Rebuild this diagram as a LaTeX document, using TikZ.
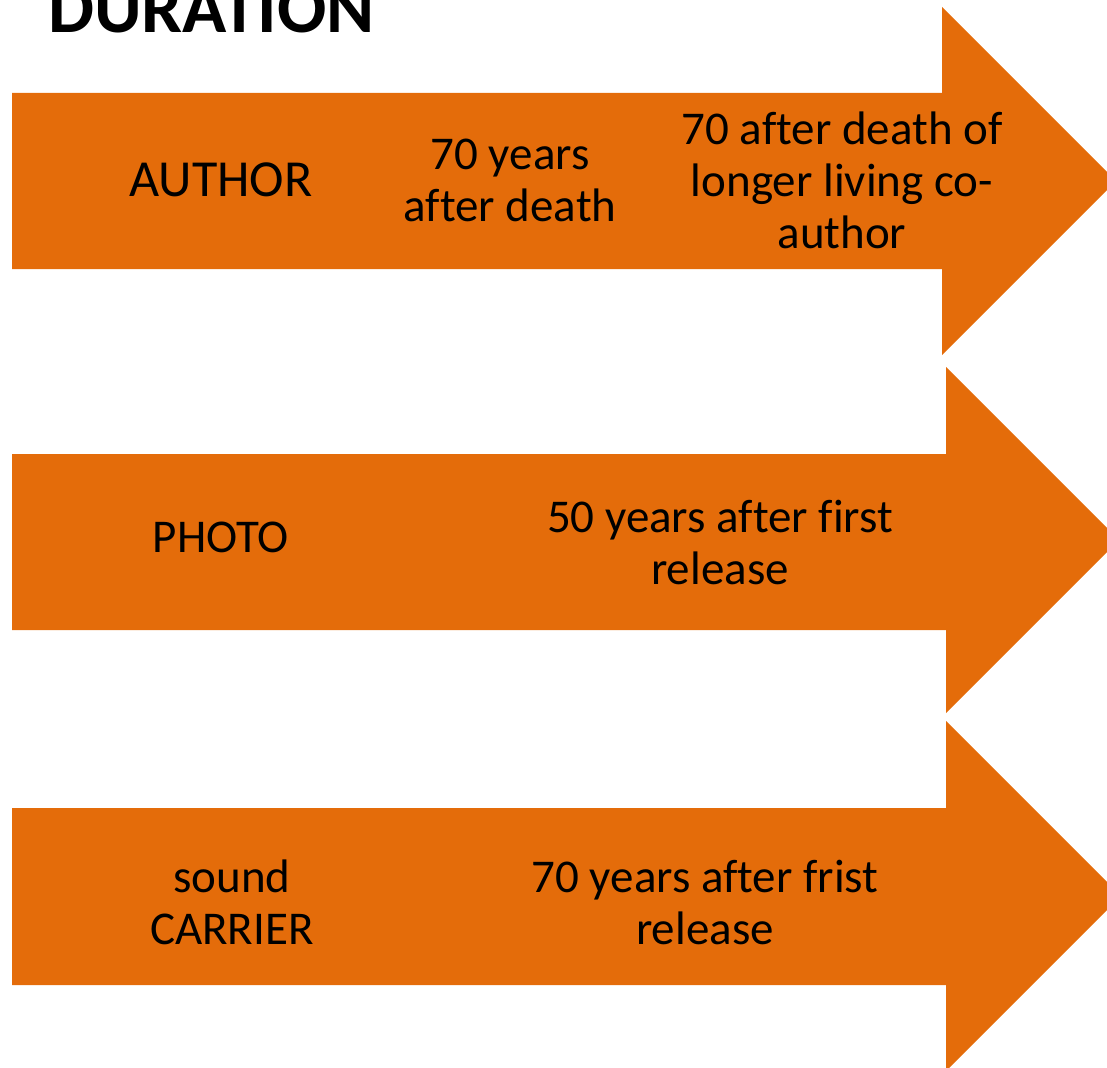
\documentclass[tikz,border=0pt]{standalone}
\usepackage{fontspec}
\setmainfont{Carlito}[Ligatures={NoCommon}]
\usepackage{tikz}
\usetikzlibrary{positioning}
\definecolor{durorange}{HTML}{E46C0A}

\begin{document}
\begin{tikzpicture}[x=1pt, y=-1pt,
    rowarrow/.style={fill=durorange},
    lbl/.style={align=center, inner sep=0pt, font=\fontsize{47}{52}\selectfont}]
    \useasboundingbox (0,0) rectangle (1107,1067);
    \clip (0,0) rectangle (1107,1067);
    % the three arrows
    \fill[rowarrow] (12,93) -- (942,93) -- (942,7) -- (1116,181) -- (942,355) -- (942,269) -- (12,269) -- cycle;
    \fill[rowarrow] (12,454) -- (946,454) -- (946,367) -- (1119,540) -- (946,713) -- (946,630) -- (12,630) -- cycle;
    \fill[rowarrow] (12,808) -- (946,808) -- (946,721) -- (1121,896) -- (946,1071) -- (946,985) -- (12,985) -- cycle;
    % title
    \node[anchor=base west, inner sep=0pt, font=\fontsize{73}{80}\selectfont\bfseries] (title) at (48,33) {DURATION};
    % labels
    \node[lbl, font=\fontsize{52}{58}\selectfont] (author) at (221,180) {AUTHOR};
    \node[lbl] (authorterm) at (510,180) {70 years\\after death};
    \node[lbl] (coauthorterm) at (842,180) {70 after death of\\longer living co-\\author};
    \node[lbl] (photo) at (221,537) {PHOTO};
    \node[lbl] (phototerm) at (720,542) {50 years after first\\release};
    \node[lbl] (carrier) at (232,902) {sound\\CARRIER};
    \node[lbl] (carrierterm) at (705,902) {70 years after frist\\release};
\end{tikzpicture}
\end{document}
